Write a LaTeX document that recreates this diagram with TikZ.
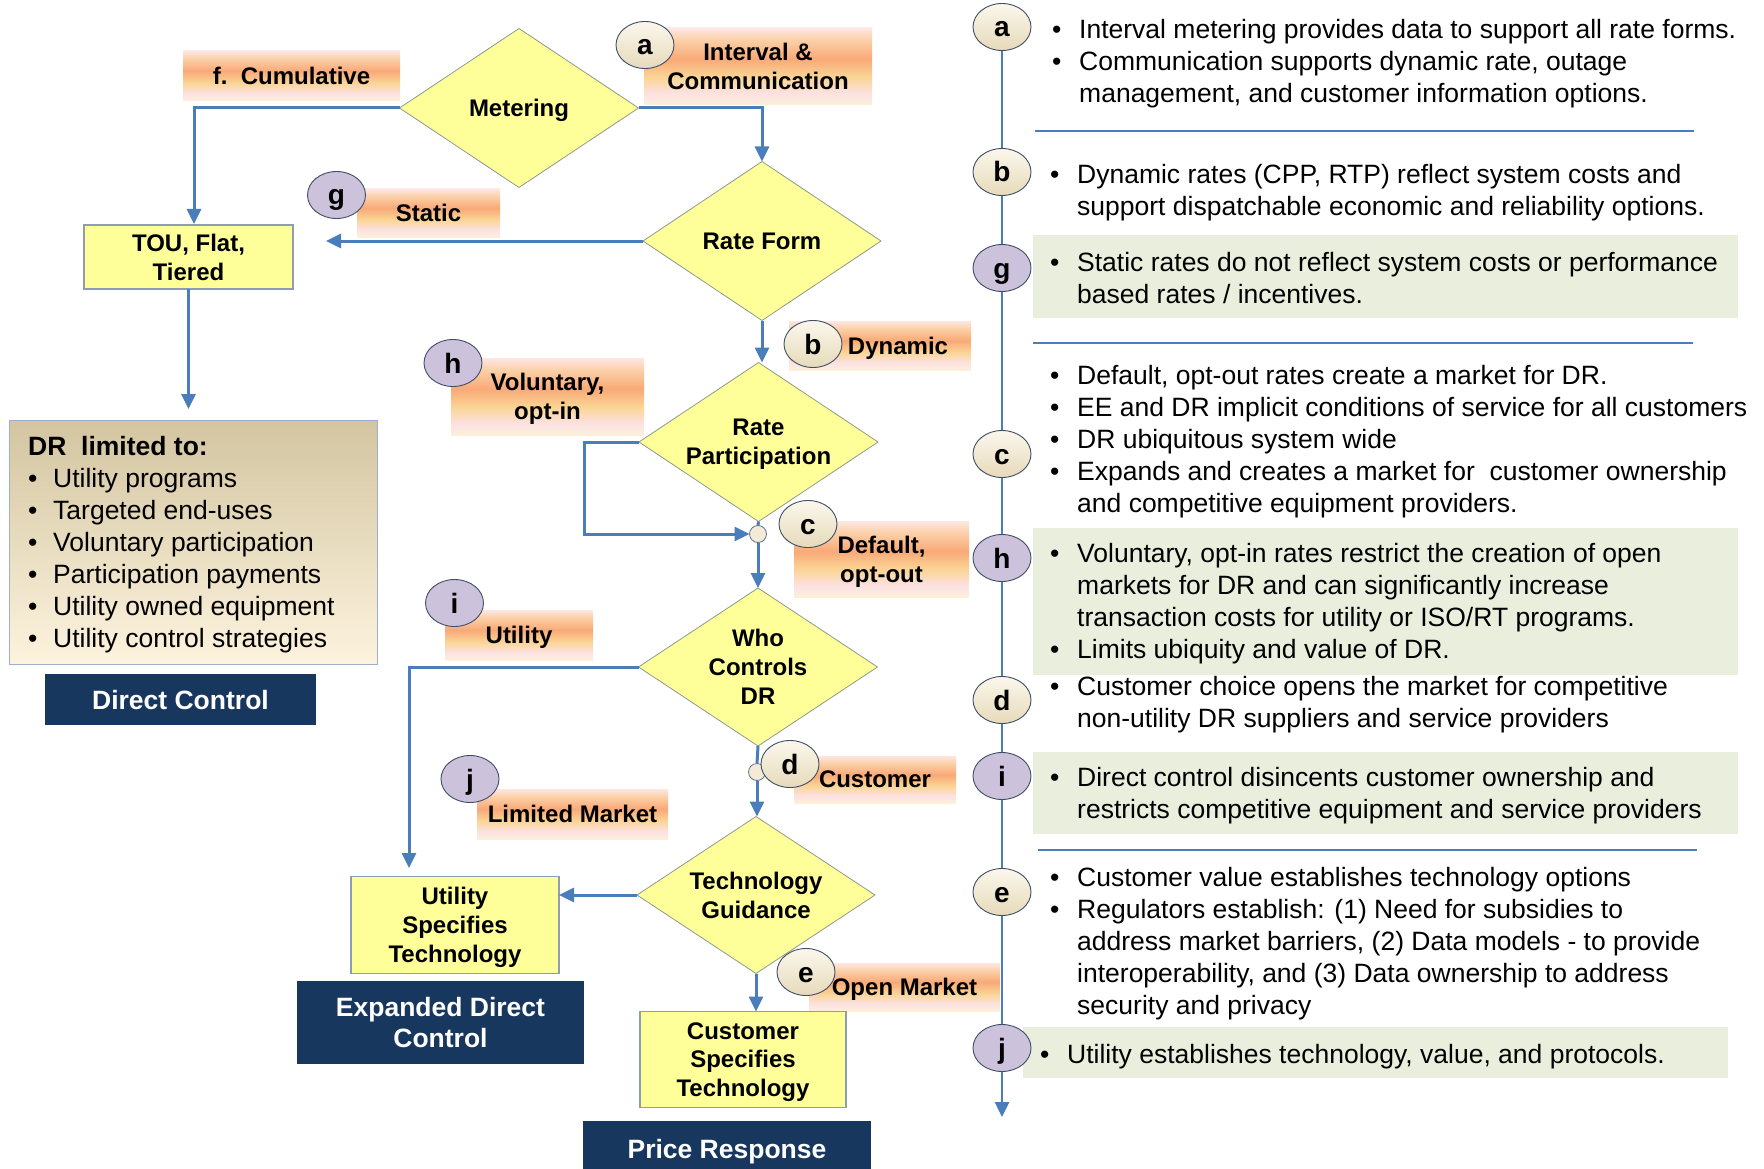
\documentclass[tikz,border=0pt]{standalone}
\usepackage{fontspec}
\setmainfont{Liberation Sans}
\usetikzlibrary{shapes.geometric,arrows.meta}
\definecolor{cblue}{HTML}{4A7EBB}
\definecolor{cyel}{HTML}{FFFF99}
\definecolor{cyelbd}{HTML}{8E9CB4}
\definecolor{cdiabd}{HTML}{8C9A8C}
\definecolor{cnavy}{HTML}{17375E}
\definecolor{cgreen}{HTML}{EAEFDD}
\definecolor{clav}{HTML}{CCC2DB}
\definecolor{cbeigeT}{HTML}{FBF7EC}
\definecolor{cbeigeB}{HTML}{E6DABA}
\definecolor{ccircbd}{HTML}{3F4D66}
\definecolor{drtop}{HTML}{D3C5A1}
\definecolor{drbot}{HTML}{FDF3DE}
\definecolor{drbd}{HTML}{9AB0CC}
\definecolor{lcream}{HTML}{FDF0D8}
\definecolor{lpink}{HTML}{FCE2E4}
\definecolor{lyel}{HTML}{FAD596}
\definecolor{lorange}{HTML}{F9A977}
\definecolor{lpeach}{HTML}{FBCFA6}
\definecolor{ltop}{HTML}{FDE7E2}
\pgfdeclareverticalshading{lblshade}{100bp}{color(0bp)=(lcream); color(25bp)=(lcream); color(32bp)=(lpink); color(43bp)=(lyel); color(55bp)=(lorange); color(67bp)=(lpeach); color(75bp)=(ltop); color(100bp)=(ltop)}
\newcommand\bitem{\makebox[27pt][l]{\textbullet}}
\newcommand\bcont{\hspace*{27pt}}
\newcommand\ditem{\makebox[25pt][l]{\textbullet}}
\tikzset{
 boldtxt/.style={font=\bfseries\fontsize{24}{28.8}\selectfont, text depth=0pt},
 lbl/.style={shading=lblshade, shade, draw=none, inner sep=0pt, outer sep=0pt, align=center, boldtxt},
 dia/.style={diamond, aspect=1.5, inner sep=0pt, outer sep=0pt, fill=cyel, draw=cdiabd, line width=0.8pt, align=center, boldtxt},
 ybox/.style={rectangle, inner sep=0pt, outer sep=0pt, fill=cyel, draw=cyelbd, line width=1.2pt, align=center, boldtxt},
 navybox/.style={rectangle, inner sep=0pt, outer sep=0pt, fill=cnavy, text=white, align=center, font=\bfseries\fontsize{26.5}{31.5}\selectfont, text depth=0pt},
 lett/.style={ellipse, minimum width=58pt, minimum height=47pt, inner sep=0pt, outer sep=0pt, draw=ccircbd, line width=0.9pt, font=\bfseries\fontsize{28}{30}\selectfont, text height=20pt, text depth=0pt},
 beigec/.style={lett, top color=cbeigeT, bottom color=cbeigeB},
 lavc/.style={lett, fill=clav},
 junc/.style={circle, minimum size=17pt, inner sep=0pt, outer sep=0pt, draw=ccircbd!80, line width=0.8pt, fill=cbeigeT!60!cbeigeB},
 conn/.style={draw=cblue, line width=3pt, -{Triangle[length=15pt,width=14pt]}},
 myplain/.style={draw=cblue, line width=3pt},
 rtext/.style={anchor=base west, inner sep=0pt, align=left, font=\fontsize{26.5}{32}\selectfont},
 mypanel/.style={rectangle, fill=cgreen, draw=none, inner sep=0pt, outer sep=0pt},
 mysep/.style={draw=cblue, line width=2.2pt},
}
\begin{document}
\begin{tikzpicture}[x=1pt,y=-1pt]
\useasboundingbox (0,0) rectangle (1764,1169);
% right column panels
\node[mypanel, minimum width=705pt, minimum height=83pt] (gp) at (1385.5,276.5) {};
\node[mypanel, minimum width=705pt, minimum height=147pt] (hp) at (1385.5,601.5) {};
\node[mypanel, minimum width=705pt, minimum height=82pt] (ip) at (1385.5,793) {};
\node[mypanel, minimum width=705pt, minimum height=51pt] (jp) at (1375.5,1052.5) {};
\draw[mysep] (1035,131) -- (1694,131);
\draw[mysep] (1033,343) -- (1693,343);
\draw[mysep] (1038,850) -- (1697,850);
\coordinate (rtop) at (1002,27);
\coordinate (rend) at (1002,1117);
\draw[conn, line width=2.5pt] (rtop) -- (rend);
% labels
\node[lbl, minimum width=217pt, minimum height=50pt] (lcum) at (291.5,76) {f.\ \ Cumulative};
\node[lbl, minimum width=228pt, minimum height=77pt] (lint) at (758,66.5) {Interval \&\\Communication};
\node[lbl, minimum width=143pt, minimum height=48pt] (lsta) at (428.5,213) {Static};
\node[lbl, minimum width=182pt, minimum height=49pt] (ldyn) at (880,345.5) {};
\node[boldtxt, inner sep=0pt] (tdyn) at (898,346) {Dynamic};
\node[lbl, minimum width=193pt, minimum height=77pt] (lvol) at (547.5,396.5) {Voluntary,\\opt-in};
\node[lbl, minimum width=175pt, minimum height=76pt] (ldef) at (881.5,559) {Default,\\opt-out};
\node[lbl, minimum width=148pt, minimum height=50pt] (luti) at (519,635) {Utility};
\node[lbl, minimum width=162pt, minimum height=47pt] (lcus) at (875,779.5) {Customer};
\node[lbl, minimum width=191pt, minimum height=50pt] (llim) at (572.5,814) {Limited Market};
\node[lbl, minimum width=191pt, minimum height=48pt] (lopn) at (904.5,987) {Open Market};
% diamonds
\node[dia, minimum width=239pt, minimum height=159pt] (met) at (519,108) {Metering};
\node[dia, minimum width=238pt, minimum height=159pt] (rf) at (762,241) {Rate Form};
\node[dia, minimum width=239pt, minimum height=159pt] (rp) at (758.5,442) {Rate\\Participation};
\node[dia, minimum width=239pt, minimum height=158pt] (wc) at (758,667) {Who\\Controls\\DR};
\node[dia, minimum width=238pt, minimum height=157pt] (tg) at (756,895) {Technology\\Guidance};
% boxes
\node[ybox, minimum width=209pt, minimum height=64pt] (tou) at (188.5,257) {TOU, Flat,\\Tiered};
\node[rectangle, minimum width=368pt, minimum height=244pt, top color=drtop, bottom color=drbot, draw=drbd, line width=1pt, inner sep=0pt, outer sep=0pt] (drb) at (193,542) {};
\node[rtext] (drt) at (28,647) {\textbf{DR\ \ limited to:}\\\ditem Utility programs\\\ditem Targeted end-uses\\\ditem Voluntary participation\\\ditem Participation payments\\\ditem Utility owned equipment\\\ditem Utility control strategies};
\node[navybox, minimum width=271pt, minimum height=51pt] (dc) at (180.5,699.5) {Direct Control};
\node[ybox, minimum width=208pt, minimum height=97pt] (us) at (455,925) {Utility\\Specifies\\Technology};
\node[navybox, minimum width=287pt, minimum height=83pt] (edc) at (440.5,1022.5) {Expanded Direct\\Control};
\node[ybox, minimum width=206pt, minimum height=96pt] (cs) at (743,1059.5) {Customer\\Specifies\\Technology};
\node[navybox, minimum width=288pt, minimum height=56pt] (pr) at (727,1149) {Price Response};
% junctions
\node[junc] (j1) at (758,534) {};
\node[junc] (j2) at (757,772) {};
% connectors
\coordinate (touin) at (194,224);
\draw[conn] (met.west) -| (touin);
\draw[conn] (met.east) -| (rf.north);
\coordinate (stend) at (326,241);
\draw[conn] (rf.west) -- (stend);
\coordinate (drin) at (188.5,409);
\draw[conn] (tou.south) -- (drin);
\draw[conn] (rf.south) -- (rf.south |- rp.north);
\coordinate (loopc) at (584,534);
\draw[conn] (rp.west) -| (loopc) -- (j1.west);
\draw[myplain] (rp.south) -- (j1.north);
\draw[conn] (j1.south) -- (j1.south |- wc.north);
\coordinate (usin) at (409,868);
\draw[conn] (wc.west) -| (usin);
\draw[myplain] (wc.south) -- (j2.north);
\draw[conn] (j2.south) -- (j2.south |- tg.north);
\draw[conn] (tg.west) -- (tg.west -| us.east);
\draw[conn] (tg.south) -- (tg.south |- cs.north);
% letter circles (flowchart)
\node[beigec] (ca) at (645,45) {a};
\node[beigec] (cb) at (813,344) {b};
\node[beigec] (cc) at (808,524) {c};
\node[beigec] (cd) at (790,764) {d};
\node[beigec] (ce) at (806,972) {e};
\node[lavc] (cg) at (336.5,195) {g};
\node[lavc] (ch) at (453,363) {h};
\node[lavc] (ci) at (454.5,603) {i};
\node[lavc] (cj) at (470,779) {j};
% letter circles (right column)
\node[beigec] (ra) at (1002,27) {a};
\node[beigec] (rb) at (1002,172) {b};
\node[lavc] (rg) at (1002,268) {g};
\node[beigec] (rc) at (1002,454) {c};
\node[lavc] (rh) at (1002,558) {h};
\node[beigec] (rd) at (1002,700) {d};
\node[lavc] (ri) at (1002,776) {i};
\node[beigec] (re) at (1002,892) {e};
\node[lavc] (rj) at (1002,1048) {j};
% right column text
\node[rtext] (ta) at (1052,103) {\bitem Interval metering provides data to support all rate forms.\\\bitem Communication supports dynamic rate, outage\\\bcont management, and customer information options.};
\node[rtext] (tb) at (1050,215) {\bitem Dynamic rates (CPP, RTP) reflect system costs and\\\bcont support dispatchable economic and reliability options.};
\node[rtext] (tgg) at (1050,303) {\bitem Static rates do not reflect system costs or performance\\\bcont based rates / incentives.};
\node[rtext] (tc) at (1050,512) {\bitem Default, opt-out rates create a market for DR.\\\bitem EE and DR implicit conditions of service for all customers\\\bitem DR ubiquitous system wide\\\bitem Expands and creates a market for\ \ customer ownership\\\bcont and competitive equipment providers.};
\node[rtext] (th) at (1050,658) {\bitem Voluntary, opt-in rates restrict the creation of open\\\bcont markets for DR and can significantly increase\\\bcont transaction costs for utility or ISO/RT programs.\\\bitem Limits ubiquity and value of DR.};
\node[rtext] (td) at (1050,727) {\bitem Customer choice opens the market for competitive\\\bcont non-utility DR suppliers and service providers};
\node[rtext] (ti) at (1050,818) {\bitem Direct control disincents customer ownership and\\\bcont restricts competitive equipment and service providers};
\node[rtext] (te) at (1050,1014) {\bitem Customer value establishes technology options\\\bitem Regulators establish: (1) Need for subsidies to\\\bcont address market barriers, (2) Data models - to provide\\\bcont interoperability, and (3) Data ownership to address\\\bcont security and privacy};
\node[rtext] (tj) at (1040,1063) {\bitem Utility establishes technology, value, and protocols.};
\end{tikzpicture}
\end{document}
